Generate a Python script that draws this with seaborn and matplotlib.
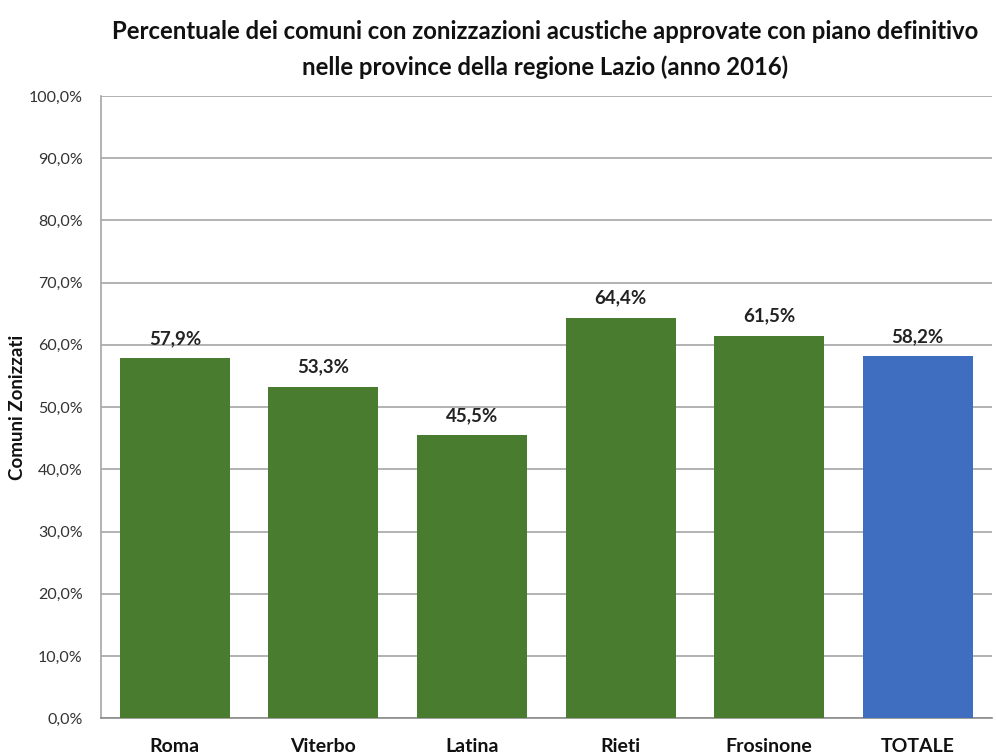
import matplotlib
matplotlib.use('Agg')
import matplotlib.pyplot as plt
import seaborn as sns
import pandas as pd

# Data
province = ['Roma', 'Viterbo', 'Latina', 'Rieti', 'Frosinone', 'TOTALE']
percentuali = [57.9, 53.3, 45.5, 64.4, 61.5, 58.2]
colori = ['#4a7c2f', '#4a7c2f', '#4a7c2f', '#4a7c2f', '#4a7c2f', '#3f6dbf']

sns.set_theme(style='white')
plt.rcParams['font.family'] = ['Lato', 'DejaVu Sans']

df = pd.DataFrame({'Provincia': province, 'Percentuale': percentuali})

fig = plt.figure(figsize=(9.96, 7.56), dpi=100)
ax = fig.add_axes([0.101, 0.050, 0.895, 0.823])

sns.barplot(data=df, x='Provincia', y='Percentuale', hue='Provincia',
            palette=colori, legend=False, width=0.74, saturation=1,
            edgecolor='none', ax=ax, zorder=3)

ax.set_xlim(-0.5, 5.5)
ax.set_ylim(0, 100)
ax.set_yticks(range(0, 101, 10))
ax.set_yticklabels([f'{v},0%' for v in range(0, 101, 10)], fontsize=11.5, color='#333333')
ax.yaxis.grid(True, color='#a6a6a6', linewidth=1.2, zorder=0)
ax.set_axisbelow(True)

for s in ['top', 'right']:
    ax.spines[s].set_visible(False)
ax.spines['left'].set_color('#a6a6a6')
ax.spines['left'].set_linewidth(1.2)
ax.spines['bottom'].set_color('#8c8c8c')
ax.spines['bottom'].set_linewidth(1.2)

ax.set_xlabel('')
ax.set_ylabel('Comuni Zonizzati', fontsize=13.5, fontweight='bold', color='#111111', labelpad=2)
ax.tick_params(axis='x', labelsize=14, pad=14, length=0)
for lbl in ax.get_xticklabels():
    lbl.set_fontweight('bold')
    lbl.set_color('#111111')
ax.tick_params(axis='y', length=0, pad=13)

for i, v in enumerate(percentuali):
    ax.text(i, v + 1.8, f'{v:.1f}%'.replace('.', ','), ha='center', va='bottom',
            fontsize=13.5, fontweight='bold', color='#222222')

fig.text(0.547, 0.958, 'Percentuale dei comuni con zonizzazioni acustiche approvate con piano definitivo',
         ha='center', va='center', fontsize=17.2, fontweight='bold', color='#111111')
fig.text(0.547, 0.911, 'nelle province della regione Lazio (anno 2016)',
         ha='center', va='center', fontsize=17.2, fontweight='bold', color='#111111')

fig.savefig('out.png', dpi=100)
